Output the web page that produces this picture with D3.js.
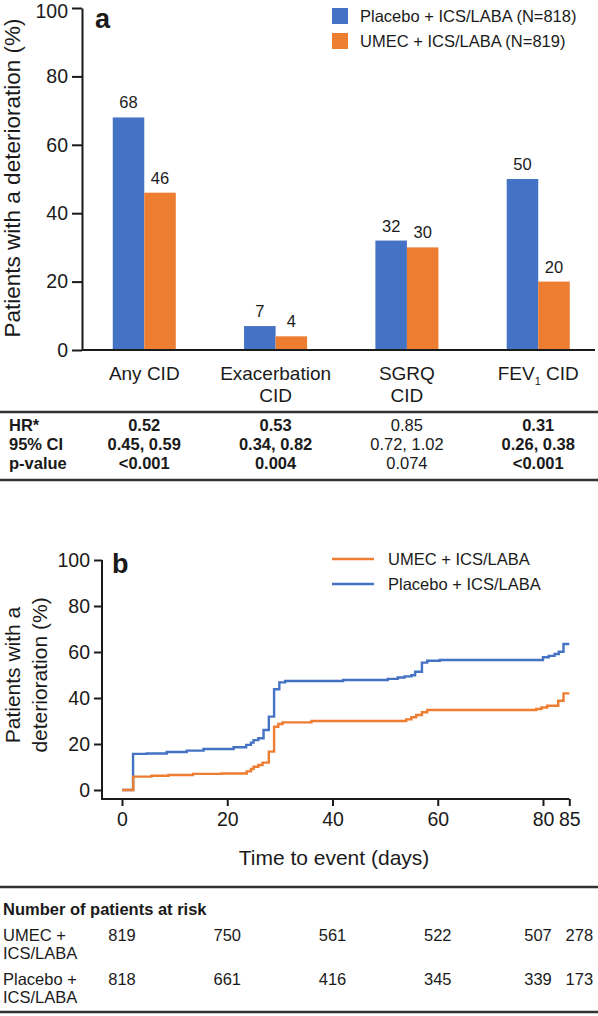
<!DOCTYPE html>
<html>
<head>
<meta charset="utf-8">
<script src="https://cdn.jsdelivr.net/npm/d3@7"></script>
<style>
  html, body { margin: 0; padding: 0; background: #fff; }
  svg { display: block; font-family: "Liberation Sans", Arial, sans-serif; }
  text { fill: #1a1a1a; }
</style>
</head>
<body>
<svg id="chart" width="598" height="1016"></svg>
<script>
// ---------- Panel a data ----------
const categories = ["Any CID", "Exacerbation CID", "SGRQ CID", "FEV1 CID"];
const seriesKeys = ["placebo", "umec"];
const seriesLabels = ["Placebo + ICS/LABA (N=818)", "UMEC + ICS/LABA (N=819)"];
const placeboPct = [68, 7, 32, 50];
const umecPct = [46, 4, 30, 20];
const yTicksA = [0, 20, 40, 60, 80, 100];
const hrValues = ["0.52", "0.53", "0.85", "0.31"];
const ciValues = ["0.45, 0.59", "0.34, 0.82", "0.72, 1.02", "0.26, 0.38"];
const pValues = ["<0.001", "0.004", "0.074", "<0.001"];
const significant = [true, true, false, true];
const tableRowLabels = ["HR*", "95% CI", "p-value"];

// ---------- Panel b data (day, % with deterioration) ----------
const umecSteps = [
  [0, 0], [2.15, 5.8], [5.6, 6.2], [8.8, 6.5], [13.5, 7.0], [18.9, 7.2],
  [23.7, 8.1], [24.5, 9.1], [25, 10.1], [25.9, 10.9], [26.7, 11.9],
  [27.9, 16.7], [28.9, 27.5], [29.7, 28.7], [30.5, 29.4], [36, 30.0],
  [54, 30.7], [55, 31.6], [55.9, 32.6], [57, 33.8], [58, 34.8],
  [78.7, 35.2], [79.7, 35.9], [80.8, 36.6], [82.9, 38.8], [83.9, 42.0], [85, 42.0]
];
const placeboSteps = [
  [0, 0], [2.1, 15.7], [4.7, 15.9], [8.5, 16.5], [12.3, 17.1], [15.5, 17.8],
  [21.2, 18.6], [23.6, 19.6], [24.5, 20.6], [25, 21.7], [25.9, 22.5],
  [26.9, 26.1], [27.9, 31.9], [28.9, 43.8], [29.9, 46.8], [31, 47.4],
  [42, 47.8], [50.5, 48.3], [52.4, 48.9], [53.7, 49.4], [55, 49.9],
  [55.7, 51.4], [57, 55.4], [58, 56.2], [60.4, 56.5], [80, 57.7],
  [81.1, 58.3], [82.2, 59.1], [83, 60.1], [83.9, 63.5], [85, 63.5]
];
const xTicksB = [0, 20, 40, 60, 80, 85];
const yTicksB = [0, 20, 40, 60, 80, 100];
const kmLegend = ["UMEC + ICS/LABA", "Placebo + ICS/LABA"];
const riskDays = [0, 20, 40, 60, 80, 85];
const riskDx = [0, 0, 0, 0, -5, 10];
const umecRisk = [819, 750, 561, 522, 507, 278];
const placeboRisk = [818, 661, 416, 345, 339, 173];

const BLUE = "#4472C4", ORANGE = "#ED7D31", INK = "#1a1a1a";
const svg = d3.select("#chart");

// =============== Panel a ===============
const yA = d3.scaleLinear().domain([0, 100]).range([350, 8]);
const x0 = d3.scaleBand().domain(categories).range([78.6, 603.9])
  .paddingInner(0.52).paddingOuter(0.26);
const x1 = d3.scaleBand().domain(seriesKeys).range([0, x0.bandwidth()]);
const colorA = d3.scaleOrdinal().domain(seriesKeys).range([BLUE, ORANGE]);

const barData = categories.map((c, i) => ({
  cat: c, values: [{ key: "placebo", v: placeboPct[i] }, { key: "umec", v: umecPct[i] }]
}));

const gBars = svg.append("g");
const groups = gBars.selectAll("g.grp").data(barData).join("g")
  .attr("transform", d => `translate(${x0(d.cat)},0)`);
groups.selectAll("rect").data(d => d.values).join("rect")
  .attr("x", d => x1(d.key)).attr("width", x1.bandwidth())
  .attr("y", d => yA(d.v)).attr("height", d => yA(0) - yA(d.v))
  .attr("fill", d => colorA(d.key));
groups.selectAll("text.val").data(d => d.values).join("text")
  .attr("class", "val")
  .attr("x", d => x1(d.key) + x1.bandwidth() / 2)
  .attr("y", d => yA(d.v) - 9)
  .attr("text-anchor", "middle").attr("font-size", 16.5)
  .text(d => d.v);

// y axis a
const axA = svg.append("g").attr("transform", "translate(82,0)")
  .call(d3.axisLeft(yA).tickValues(yTicksA).tickSize(10).tickSizeOuter(0).tickPadding(4));
axA.selectAll("path,line").attr("stroke", INK).attr("stroke-width", 2);
axA.selectAll("text").attr("font-size", 19.5).attr("fill", INK)
  .attr("font-family", "Liberation Sans, Arial, sans-serif")
  .attr("dy", d => d === 100 ? "0.5em" : "0.32em");
// x axis baseline
svg.append("line").attr("x1", 82).attr("x2", 595)
  .attr("y1", yA(0)).attr("y2", yA(0)).attr("stroke", INK).attr("stroke-width", 2);

// category labels
const catLines = [["Any CID"], ["Exacerbation", "CID"], ["SGRQ", "CID"], ["FEV1 CID"]];
categories.forEach((c, i) => {
  const cx = x0(c) + x0.bandwidth() / 2;
  if (c === "FEV1 CID") {
    const t = svg.append("text").attr("x", cx).attr("y", 380)
      .attr("text-anchor", "middle").attr("font-size", 19);
    t.append("tspan").text("FEV");
    t.append("tspan").attr("font-size", 11).attr("dy", 5).text("1");
    t.append("tspan").attr("dy", -5).text(" CID");
  } else {
    catLines[i].forEach((ln, j) => {
      svg.append("text").attr("x", cx).attr("y", 380 + j * 22)
        .attr("text-anchor", "middle").attr("font-size", 19).text(ln);
    });
  }
});

// panel label a
svg.append("text").attr("x", 95).attr("y", 28).attr("font-size", 27)
  .attr("font-weight", "bold").text("a");

// y title a
svg.append("text").attr("transform", "translate(20,178) rotate(-90)")
  .attr("text-anchor", "middle").attr("font-size", 22.5)
  .text("Patients with a deterioration (%)");

// legend a
seriesKeys.forEach((k, i) => {
  svg.append("rect").attr("x", 332).attr("y", 8 + i * 25).attr("width", 16).attr("height", 16)
    .attr("fill", colorA(k));
  svg.append("text").attr("x", 360).attr("y", 22 + i * 25).attr("font-size", 16.5)
    .text(seriesLabels[i]);
});

// stats table
svg.append("line").attr("x1", 0).attr("x2", 598).attr("y1", 412).attr("y2", 412)
  .attr("stroke", "#333").attr("stroke-width", 2.5);
svg.append("line").attr("x1", 0).attr("x2", 598).attr("y1", 480).attr("y2", 480)
  .attr("stroke", "#333").attr("stroke-width", 2.5);
const tableRows = [hrValues, ciValues, pValues];
tableRowLabels.forEach((lab, r) => {
  const yy = 431 + r * 19;
  svg.append("text").attr("x", 9).attr("y", yy).attr("font-size", 16.5)
    .attr("font-weight", "bold").text(lab);
  categories.forEach((c, i) => {
    svg.append("text").attr("x", x0(c) + x0.bandwidth() / 2).attr("y", yy)
      .attr("text-anchor", "middle").attr("font-size", 16.5)
      .attr("font-weight", significant[i] ? "bold" : "normal")
      .text(tableRows[r][i]);
  });
});

// =============== Panel b ===============
const xB = d3.scaleLinear().domain([0, 85]).range([122, 569.3]);
const yB = d3.scaleLinear().domain([0, 100]).range([790, 560]);

const axBy = svg.append("g").attr("transform", "translate(102,0)")
  .call(d3.axisLeft(yB).tickValues(yTicksB).tickSize(8).tickSizeOuter(0).tickPadding(4));
axBy.select("path").attr("d", `M0,${yB(100)}V799`);
const axBx = svg.append("g").attr("transform", "translate(0,799)")
  .call(d3.axisBottom(xB).tickValues(xTicksB).tickSize(7).tickSizeOuter(0).tickPadding(6));
axBx.select("path").attr("d", "M101,0H" + xB(85));
[axBy, axBx].forEach(a => {
  a.selectAll("path,line").attr("stroke", INK).attr("stroke-width", 2);
  a.selectAll("text").attr("font-size", 19.5).attr("fill", INK)
    .attr("font-family", "Liberation Sans, Arial, sans-serif");
});

const line = d3.line().x(d => xB(d[0])).y(d => yB(d[1])).curve(d3.curveStepAfter);
svg.append("path").datum(placeboSteps).attr("d", line)
  .attr("fill", "none").attr("stroke", BLUE).attr("stroke-width", 2.4);
svg.append("path").datum(umecSteps).attr("d", line)
  .attr("fill", "none").attr("stroke", ORANGE).attr("stroke-width", 2.4);

svg.append("text").attr("x", 112).attr("y", 573).attr("font-size", 27)
  .attr("font-weight", "bold").text("b");

const yt = svg.append("text").attr("transform", "translate(0,675) rotate(-90)")
  .attr("text-anchor", "middle").attr("font-size", 21);
yt.append("tspan").attr("x", 0).attr("y", 20).text("Patients with a");
yt.append("tspan").attr("x", 0).attr("y", 47).text("deterioration (%)");

svg.append("text").attr("x", 334).attr("y", 865).attr("text-anchor", "middle")
  .attr("font-size", 21).text("Time to event (days)");

// legend b
[ORANGE, BLUE].forEach((c, i) => {
  svg.append("line").attr("x1", 332).attr("x2", 374)
    .attr("y1", 559 + i * 25).attr("y2", 559 + i * 25)
    .attr("stroke", c).attr("stroke-width", 2.5);
  svg.append("text").attr("x", 388).attr("y", 565 + i * 25).attr("font-size", 16.5)
    .text(kmLegend[i]);
});

// risk table
svg.append("line").attr("x1", 0).attr("x2", 598).attr("y1", 887).attr("y2", 887)
  .attr("stroke", "#333").attr("stroke-width", 2.5);
svg.append("line").attr("x1", 0).attr("x2", 598).attr("y1", 1012).attr("y2", 1012)
  .attr("stroke", "#333").attr("stroke-width", 2.5);
svg.append("text").attr("x", 3).attr("y", 915).attr("font-size", 16.5)
  .attr("font-weight", "bold").text("Number of patients at risk");
const riskRows = [
  { lab: ["UMEC +", "ICS/LABA"], vals: umecRisk, y: 941 },
  { lab: ["Placebo +", "ICS/LABA"], vals: placeboRisk, y: 985 }
];
riskRows.forEach(r => {
  r.lab.forEach((l, j) => {
    svg.append("text").attr("x", 3).attr("y", r.y + j * 17.5).attr("font-size", 16.5).text(l);
  });
  r.vals.forEach((v, i) => {
    svg.append("text").attr("x", xB(riskDays[i]) + riskDx[i]).attr("y", r.y)
      .attr("text-anchor", "middle").attr("font-size", 16.5).text(v);
  });
});
</script>
</body>
</html>
